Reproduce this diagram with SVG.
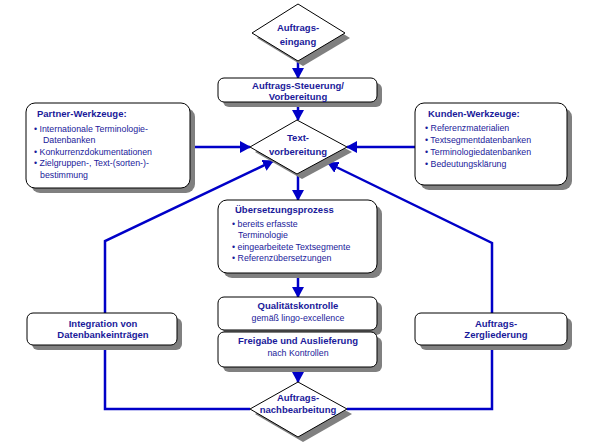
<svg xmlns="http://www.w3.org/2000/svg" width="595" height="446" viewBox="0 0 595 446">
<defs>
<marker id="ah" markerUnits="userSpaceOnUse" markerWidth="11" markerHeight="12" refX="10" refY="6" orient="auto">
<path d="M0,0 L11,6 L0,12 z" fill="#0000c8"/>
</marker>
<style>
.c{fill:none;stroke:#0000c8;stroke-width:2.5}
.box{fill:#ffffff;stroke:#000000;stroke-width:1}
.sh{fill:#808080;stroke:none}
.t{font-family:"Liberation Sans",Arial,sans-serif;fill:#1a1a9a}
.b{font-weight:bold;font-size:9.5px}
.r{font-size:8.8px}
.m{text-anchor:middle}
</style>
</defs>
<rect width="595" height="446" fill="#ffffff"/>
<g id="connectors">
<line class="c" x1="298" y1="61" x2="298" y2="78" marker-end="url(#ah)"/>
<line class="c" x1="298" y1="102" x2="298" y2="120" marker-end="url(#ah)"/>
<line class="c" x1="190" y1="147" x2="250" y2="147" marker-end="url(#ah)"/>
<line class="c" x1="415" y1="147" x2="347" y2="147" marker-end="url(#ah)"/>
<line class="c" x1="298" y1="174" x2="298" y2="200" marker-end="url(#ah)"/>
<line class="c" x1="298" y1="273" x2="298" y2="297" marker-end="url(#ah)"/>
<line class="c" x1="298" y1="367" x2="298" y2="382" marker-end="url(#ah)"/>
<path class="c" d="M250,409 H105 V241 L273,161" marker-end="url(#ah)"/>
<path class="c" d="M347,409 H492 V243 L328,163" marker-end="url(#ah)"/>
</g>
<g id="auftragseingang">
<polygon class="sh" points="303,9 350,38 303,66 257,38"/>
<polygon class="box" points="298,4 345,33 298,61 252,33"/>
<text class="t b m" x="298" y="31">Auftrags-</text>
<text class="t b m" x="298" y="45">eingang</text>
</g>
<g id="steuerung">
<rect class="sh" x="223" y="83" width="159" height="24" rx="6"/>
<rect class="box" x="218" y="78" width="159" height="24" rx="6"/>
<text class="t b m" x="298" y="89">Auftrags-Steuerung/</text>
<text class="t b m" x="298" y="100">Vorbereitung</text>
</g>
<g id="partner">
<rect class="sh" x="31" y="108" width="164" height="85" rx="9"/>
<rect class="box" x="26" y="103" width="164" height="85" rx="9"/>
<text class="t b" x="37" y="117">Partner-Werkzeuge:</text>
<text class="t r" x="34" y="132">• Internationale Terminologie-</text>
<text class="t r" x="43" y="143">Datenbanken</text>
<text class="t r" x="34" y="155">• Konkurrenzdokumentationen</text>
<text class="t r" x="34" y="166">• Zielgruppen-, Text-(sorten-)-</text>
<text class="t r" x="40" y="178">bestimmung</text>
</g>
<g id="kunden">
<rect class="sh" x="420" y="108" width="152" height="82" rx="9"/>
<rect class="box" x="415" y="103" width="152" height="82" rx="9"/>
<text class="t b" x="428" y="117">Kunden-Werkzeuge:</text>
<text class="t r" x="425" y="131">• Referenzmaterialien</text>
<text class="t r" x="425" y="143">• Textsegmentdatenbanken</text>
<text class="t r" x="425" y="155">• Terminologiedatenbanken</text>
<text class="t r" x="425" y="167">• Bedeutungsklärung</text>
</g>
<g id="textvorbereitung">
<polygon class="sh" points="302,125 352,152 302,179 255,152"/>
<polygon class="box" points="297,120 347,147 297,174 250,147"/>
<text class="t b m" x="298" y="141">Text-</text>
<text class="t b m" x="298" y="155">vorbereitung</text>
</g>
<g id="uebersetzung">
<rect class="sh" x="223" y="205" width="159" height="73" rx="9"/>
<rect class="box" x="218" y="200" width="159" height="73" rx="9"/>
<text class="t b" x="235" y="213">Übersetzungsprozess</text>
<text class="t r" x="232" y="227">• bereits erfasste</text>
<text class="t r" x="238" y="238">Terminologie</text>
<text class="t r" x="232" y="250">• eingearbeitete Textsegmente</text>
<text class="t r" x="232" y="261">• Referenzübersetzungen</text>
</g>
<g id="qualitaet">
<rect class="sh" x="223" y="302" width="159" height="33" rx="6"/>
<rect class="box" x="218" y="297" width="159" height="33" rx="6"/>
<text class="t b m" x="298" y="309">Qualitätskontrolle</text>
<text class="t r m" x="298" y="321">gemäß lingo-excellence</text>
</g>
<g id="freigabe">
<rect class="sh" x="223" y="337" width="159" height="35" rx="6"/>
<rect class="box" x="218" y="332" width="159" height="35" rx="6"/>
<text class="t b m" x="298" y="344">Freigabe und Auslieferung</text>
<text class="t r m" x="298" y="356">nach Kontrollen</text>
</g>
<g id="nachbearbeitung">
<polygon class="sh" points="303,387 352,414 303,442 255,414"/>
<polygon class="box" points="298,382 347,409 298,437 250,409"/>
<text class="t b m" x="298" y="401">Auftrags-</text>
<text class="t b m" x="298" y="413">nachbearbeitung</text>
</g>
<g id="integration">
<rect class="sh" x="32" y="318" width="150" height="32" rx="6"/>
<rect class="box" x="27" y="313" width="150" height="32" rx="6"/>
<text class="t b m" x="103" y="327">Integration von</text>
<text class="t b m" x="103" y="338">Datenbankeinträgen</text>
</g>
<g id="zergliederung">
<rect class="sh" x="420" y="318" width="152" height="32" rx="6"/>
<rect class="box" x="415" y="313" width="152" height="32" rx="6"/>
<text class="t b m" x="496" y="327">Auftrags-</text>
<text class="t b m" x="496" y="338">Zergliederung</text>
</g>
</svg>
